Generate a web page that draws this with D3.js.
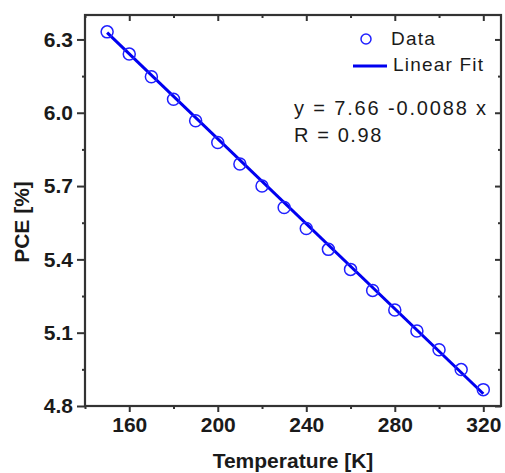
<!DOCTYPE html>
<html>
<head>
<meta charset="utf-8">
<script src="https://cdn.jsdelivr.net/npm/d3@7"></script>
<style>
  body { margin: 0; background: #fff; }
  svg { display: block; font-family: "Liberation Sans", Arial, sans-serif; }
  .tick text { font-weight: bold; font-size: 21px; fill: #1a1a1a; }
</style>
</head>
<body>
<div id="chart"></div>
<script>
var temps = [150, 160, 170, 180, 190, 200, 210, 220, 230, 240, 250, 260, 270, 280, 290, 300, 310, 320];
var pce = [6.331, 6.240, 6.147, 6.055, 5.967, 5.878, 5.790, 5.700, 5.612, 5.526, 5.441, 5.359, 5.273, 5.193, 5.107, 5.030, 4.949, 4.867];
var fitT = [150, 320];
var fitP = [6.328, 4.85];
var xTicks = [160, 200, 240, 280, 320];
var xMinor = [140, 180, 220, 260, 300];
var yTicks = [4.8, 5.1, 5.4, 5.7, 6.0, 6.3];
var yMinor = [4.95, 5.25, 5.55, 5.85, 6.15];

var w = 505, h = 473;
var m = {left: 85, top: 15, right: 4, bottom: 67};
var axisColor = "#333";

var svg = d3.select("#chart").append("svg")
    .attr("width", w)
    .attr("height", h);

var x = d3.scaleLinear().domain([140, 328]).range([m.left, w - m.right]);
var y = d3.scaleLinear().domain([4.8, 6.4]).range([h - m.bottom, m.top]);

function styleAxis(g) {
    g.select(".domain").remove();
    g.selectAll(".tick line").attr("stroke", axisColor).attr("stroke-width", 2);
}

// bottom: outward ticks
svg.append("g").attr("transform", "translate(0," + y.range()[0] + ")")
    .call(d3.axisBottom(x).tickValues(xTicks).tickSize(6).tickPadding(5).tickFormat(d3.format("d")))
    .call(styleAxis);
svg.append("g").attr("transform", "translate(0," + y.range()[0] + ")")
    .call(d3.axisBottom(x).tickValues(xMinor).tickSize(3).tickFormat(""))
    .call(styleAxis);
// top: inward ticks
svg.append("g").attr("transform", "translate(0," + y.range()[1] + ")")
    .call(d3.axisBottom(x).tickValues(xTicks).tickSize(6).tickFormat(""))
    .call(styleAxis);
svg.append("g").attr("transform", "translate(0," + y.range()[1] + ")")
    .call(d3.axisBottom(x).tickValues(xMinor).tickSize(3).tickFormat(""))
    .call(styleAxis);
// left: outward ticks
svg.append("g").attr("transform", "translate(" + x.range()[0] + ",0)")
    .call(d3.axisLeft(y).tickValues(yTicks).tickSize(8).tickPadding(4).tickFormat(d3.format(".1f")))
    .call(styleAxis);
svg.append("g").attr("transform", "translate(" + x.range()[0] + ",0)")
    .call(d3.axisLeft(y).tickValues(yMinor).tickSize(3).tickFormat(""))
    .call(styleAxis);
// right: inward ticks
svg.append("g").attr("transform", "translate(" + x.range()[1] + ",0)")
    .call(d3.axisLeft(y).tickValues(yTicks).tickSize(6).tickFormat(""))
    .call(styleAxis);
svg.append("g").attr("transform", "translate(" + x.range()[1] + ",0)")
    .call(d3.axisLeft(y).tickValues(yMinor).tickSize(3).tickFormat(""))
    .call(styleAxis);

// frame
svg.append("rect")
    .attr("x", x.range()[0])
    .attr("y", y.range()[1])
    .attr("width", x.range()[1] - x.range()[0])
    .attr("height", y.range()[0] - y.range()[1])
    .attr("fill", "none")
    .attr("stroke", axisColor)
    .attr("stroke-width", 2.2);

// fit line
svg.append("line")
    .attr("x1", x(fitT[0])).attr("y1", y(fitP[0]))
    .attr("x2", x(fitT[1])).attr("y2", y(fitP[1]))
    .attr("stroke", "#0000f0")
    .attr("stroke-width", 3);

// data circles
svg.selectAll("circle.pt").data(temps).enter()
    .append("circle")
    .attr("class", "pt")
    .attr("cx", function (d) { return x(d); })
    .attr("cy", function (d, i) { return y(pce[i]); })
    .attr("r", 6)
    .attr("fill", "none")
    .attr("stroke", "#2020ff")
    .attr("stroke-width", 1.5);

// legend
svg.append("circle")
    .attr("cx", 366).attr("cy", 39).attr("r", 5)
    .attr("fill", "none").attr("stroke", "#2020ff").attr("stroke-width", 1.5);
svg.append("text").attr("x", 391).attr("y", 45)
    .attr("font-size", 19).attr("letter-spacing", 1.2).attr("fill", "#1a1a1a")
    .text("Data");
svg.append("line")
    .attr("x1", 353).attr("x2", 387).attr("y1", 66).attr("y2", 66)
    .attr("stroke", "#0000f0").attr("stroke-width", 3);
svg.append("text").attr("x", 393).attr("y", 71)
    .attr("font-size", 19).attr("letter-spacing", 1.2).attr("fill", "#1a1a1a")
    .text("Linear Fit");

// equation
svg.append("text").attr("x", 294).attr("y", 115)
    .attr("font-size", 20).attr("letter-spacing", 1.85).attr("fill", "#1a1a1a")
    .text("y = 7.66 -0.0088 x");
svg.append("text").attr("x", 294).attr("y", 142)
    .attr("font-size", 20).attr("letter-spacing", 1.6).attr("fill", "#1a1a1a")
    .text("R = 0.98");

// axis titles
svg.append("text")
    .attr("x", (x.range()[0] + x.range()[1]) / 2)
    .attr("y", 468)
    .attr("text-anchor", "middle")
    .attr("font-size", 21).attr("font-weight", "bold").attr("fill", "#1a1a1a")
    .text("Temperature [K]");
svg.append("text")
    .attr("transform", "translate(29,222) rotate(-90)")
    .attr("text-anchor", "middle")
    .attr("font-size", 21).attr("font-weight", "bold").attr("fill", "#1a1a1a")
    .text("PCE [%]");
</script>
</body>
</html>
